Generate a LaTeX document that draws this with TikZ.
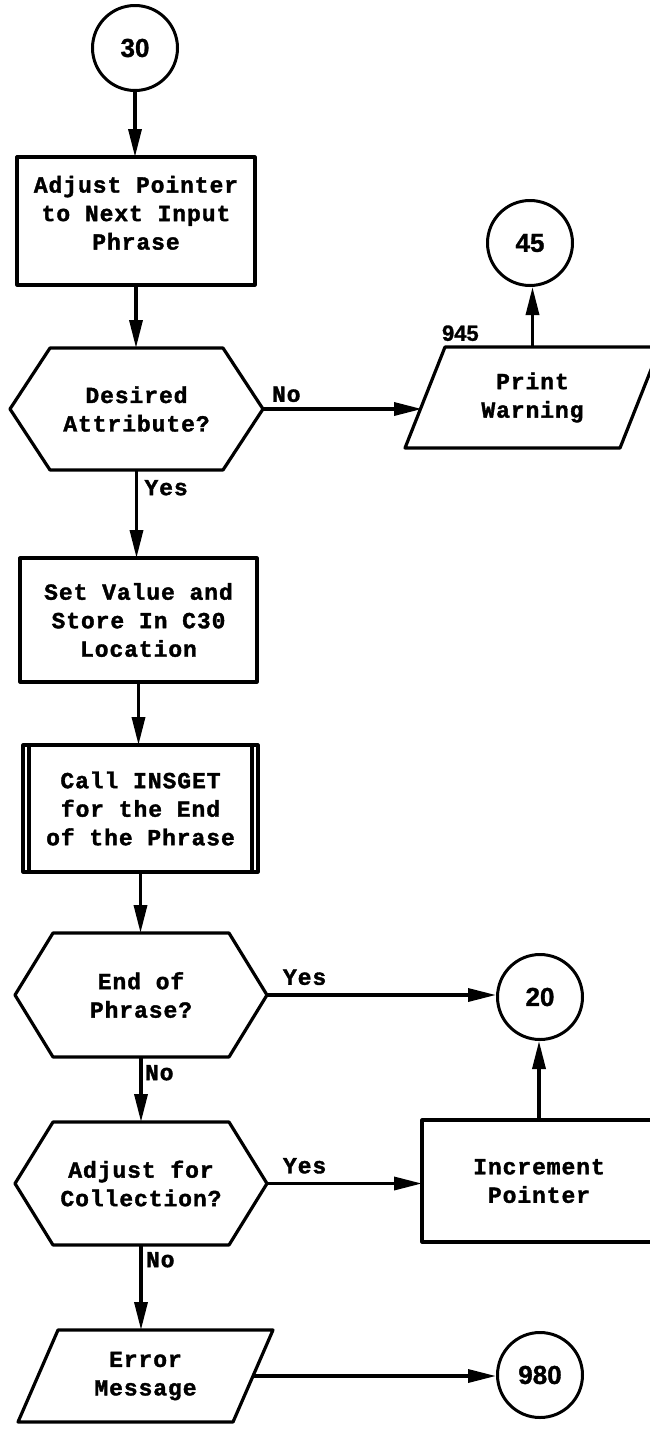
\documentclass[tikz,border=0pt]{standalone}
\usepackage{fontspec}
\newfontfamily\twfont[LetterSpace=4, BoldFeatures={FakeBold=1.6}]{Liberation Mono}
\newfontfamily\numfont[BoldFeatures={FakeBold=1.2}]{Liberation Sans}
\usetikzlibrary{arrows.meta,calc}
\newcommand\hexdraw[2]{\draw[shp] (#1.west) -- ($(#1.north west)+(#2,0)$) -- ($(#1.north east)+(-#2,0)$) -- (#1.east) -- ($(#1.south east)+(-#2,0)$) -- ($(#1.south west)+(#2,0)$) -- cycle;}
\newcommand\paradraw[2]{\draw[shp] ($(#1.north west)+(#2,0)$) -- ($(#1.north east)+(#2,0)$) -- ($(#1.south east)+(-#2,0)$) -- ($(#1.south west)+(-#2,0)$) -- cycle;}
\begin{document}
\begin{tikzpicture}[x=1pt,y=-1pt,
  shp/.style={line width=3.2pt, line join=round},
  conn/.style={line width=3.4pt, -{Triangle[length=28pt,width=13pt]}},
  txt/.style={font={\twfont\bfseries\fontsize{23}{28.5}\selectfont}},
  area/.style={txt, draw=none, inner sep=0pt, outer sep=0pt, align=center},
  rbox/.style={txt, draw, shp, inner sep=0pt, outer sep=0pt, align=center},
  circ/.style={circle, draw, line width=3pt, minimum size=85pt, inner sep=0pt,
    font={\numfont\bfseries\fontsize{26}{30}\selectfont}},
  lab/.style={txt, inner sep=0pt, outer sep=0pt},
  numlab/.style={font={\numfont\bfseries\fontsize{22}{26}\selectfont}, inner sep=0pt, outer sep=0pt}]
\useasboundingbox (0,0) rectangle (650,1433);
\clip (0,0) rectangle (650,1433);
\fill[white] (0,0) rectangle (650,1433);

% nodes
\node[circ] (c30) at (135,48) {30};
\node[rbox, minimum width=238pt, minimum height=128pt] (b1) at (136,221) {Adjust Pointer\\to Next Input\\Phrase\\[-12pt]\mbox{}};
\node[area, minimum width=253pt, minimum height=122pt] (d1) at (136.5,409) {Desired\\Attribute?};
\hexdraw{d1}{40}
\node[area, minimum width=215pt, minimum height=101pt] (pw) at (532.5,397.5) {Print\\Warning};
\paradraw{pw}{20}
\node[circ] (c45) at (530,243) {45};
\node[numlab, anchor=south west] (n945) at ($(pw.north west)+(17,-6)$) {945};
\node[rbox, minimum width=237pt, minimum height=124pt] (b2) at (138.5,620) {Set Value and\\Store In C30\\Location};
\node[rbox, minimum width=235pt, minimum height=127pt] (b3) at (140.5,808.5) {Call INSGET\\for the End\\of the Phrase};
\draw[shp] ($(b3.north west)+(6,0)$) -- ($(b3.south west)+(6,0)$);
\draw[shp] ($(b3.north east)+(-6,0)$) -- ($(b3.south east)+(-6,0)$);
\node[area, minimum width=252pt, minimum height=124pt] (d2) at (141,995) {End of\\Phrase?};
\hexdraw{d2}{38}
\node[circ] (c20) at (540,997) {20};
\node[area, minimum width=252pt, minimum height=123pt] (d3) at (141,1183.5) {Adjust for\\Collection?};
\hexdraw{d3}{38}
\node[rbox, minimum width=234pt, minimum height=122pt] (ib) at (539,1181) {Increment\\Pointer};
\node[area, minimum width=215pt, minimum height=92pt] (em) at (145.5,1376) {Error\\Message};
\paradraw{em}{20}
\node[circ] (c980) at (540,1375) {980};

% connectors
\draw[conn] (c30.south) -- (c30.south |- b1.north);
\draw[conn] (b1.south) -- (b1.south |- d1.north);
\draw[conn] (d1.east) -- ($(d1.east -| pw.west)+(-3,0)$);
\node[lab, anchor=south west] (lno1) at ($(d1.east)+(9,-7)$) {No};
\draw[conn] (pw.north) -- (pw.north |- c45.south);
\draw[conn] (d1.south) -- (d1.south |- b2.north);
\node[lab, anchor=north west] (lyes1) at ($(d1.south)+(8,10)$) {Yes};
\draw[conn] (b2.south) -- (b2.south |- b3.north);
\draw[conn] (b3.south) -- (b3.south |- d2.north);
\draw[conn] (d2.east) -- (d2.east -| c20.west);
\node[lab, anchor=south west] (lyes2) at ($(d2.east)+(16,-10)$) {Yes};
\draw[conn] (d2.south) -- (d2.south |- d3.north);
\node[lab, anchor=north west] (lno2) at ($(d2.south)+(4,8)$) {No};
\draw[conn] (d3.east) -- (d3.east -| ib.west);
\node[lab, anchor=south west] (lyes3) at ($(d3.east)+(16,-10)$) {Yes};
\draw[conn] (ib.north) -- (ib.north |- c20.south);
\draw[conn] (d3.south) -- (d3.south |- em.north);
\node[lab, anchor=north west] (lno3) at ($(d3.south)+(5,7)$) {No};
\draw[conn] (em.east) -- (em.east -| c980.west);
\end{tikzpicture}
\end{document}
